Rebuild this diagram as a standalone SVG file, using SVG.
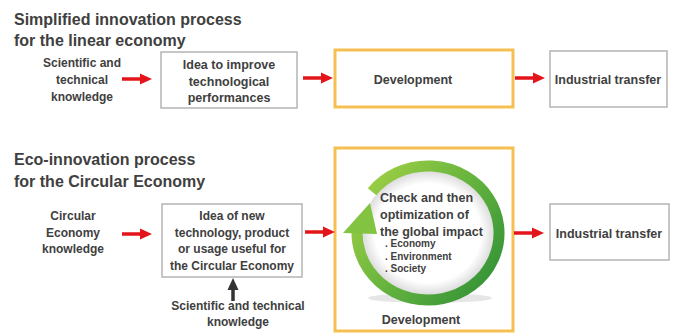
<svg xmlns="http://www.w3.org/2000/svg" width="676" height="333" viewBox="0 0 676 333">
<style>
text{font-family:"Liberation Sans",Arial,sans-serif;font-weight:bold;fill:#404040}
.title{font-size:16px}
.lbl{font-size:12px;text-anchor:middle}
.lbl5{font-size:12.5px;text-anchor:middle}
.ct{font-size:12.5px}
.bul{font-size:10px}
.box{fill:#fff;stroke:#b4b4b4;stroke-width:1.5}
.dev{fill:#fff;stroke:#f5bf52;stroke-width:3}
.red{stroke:#e3151b;stroke-width:3.5;fill:none;marker-end:url(#rh)}
.blk{stroke:#333;stroke-width:3.5;fill:none;marker-end:url(#bh)}
</style>
<defs>
<marker id="rh" markerUnits="userSpaceOnUse" viewBox="0 0 12 12" refX="6" refY="6" markerWidth="12" markerHeight="12" orient="auto">
<path d="M0,0.5 L12,6 L0,11.5 z" fill="#e3151b"/>
</marker>
<marker id="bh" markerUnits="userSpaceOnUse" viewBox="0 0 12 12" refX="6" refY="6" markerWidth="12" markerHeight="12" orient="auto">
<path d="M0,0.5 L12,6 L0,11.5 z" fill="#333"/>
</marker>
<linearGradient id="ring" gradientUnits="userSpaceOnUse" x1="355" y1="175" x2="500" y2="290">
<stop offset="0" stop-color="#a6d246"/>
<stop offset="0.5" stop-color="#66b43e"/>
<stop offset="1" stop-color="#2f8f36"/>
</linearGradient>
<radialGradient id="disk" cx="0.5" cy="0.5" r="0.5">
<stop offset="0.8" stop-color="#ffffff"/>
<stop offset="1" stop-color="#dcdcdc"/>
</radialGradient>
</defs>

<g id="titles">
<text class="title" x="14" y="25">Simplified innovation process</text>
<text class="title" x="14" y="46">for the linear economy</text>
<text class="title" x="14" y="165">Eco-innovation process</text>
<text class="title" x="14" y="187">for the Circular Economy</text>
</g>

<g id="sci-top">
<text class="lbl" x="82" y="67">Scientific and</text>
<text class="lbl" x="82" y="84">technical</text>
<text class="lbl" x="82" y="101">knowledge</text>
</g>

<g id="idea-top">
<rect class="box" x="161" y="52" width="136" height="56"/>
<text class="lbl5" x="229" y="69">Idea to improve</text>
<text class="lbl5" x="229" y="85.5">technological</text>
<text class="lbl5" x="229" y="102">performances</text>
</g>

<g id="dev-top">
<rect class="dev" x="335" y="50" width="178" height="57"/>
<text class="lbl5" x="413" y="83.5">Development</text>
</g>

<g id="ind-top">
<rect class="box" x="550" y="51" width="117" height="56"/>
<text class="lbl5" x="608" y="84">Industrial transfer</text>
</g>

<g id="ce-knowledge">
<text class="lbl" x="73" y="220">Circular</text>
<text class="lbl" x="73" y="236.5">Economy</text>
<text class="lbl" x="73" y="253">knowledge</text>
</g>

<g id="idea-bottom">
<rect class="box" x="162" y="204" width="140" height="73"/>
<text class="lbl" x="232" y="220">Idea of new</text>
<text class="lbl" x="232" y="236.5">technology, product</text>
<text class="lbl" x="232" y="253">or usage useful for</text>
<text class="lbl" x="232" y="269.5">the Circular Economy</text>
</g>

<g id="sci-bottom">
<text class="lbl" x="238" y="310">Scientific and technical</text>
<text class="lbl" x="238" y="326">knowledge</text>
</g>

<g id="dev-bottom">
<rect class="dev" x="335" y="148" width="178" height="183"/>
<ellipse cx="430" cy="298" rx="62" ry="5" fill="#e6e6e6"/>
<ellipse cx="428" cy="233" rx="66" ry="62" fill="url(#disk)"/>
<path d="M372.1,191.7 A71,67 0 1 1 357.7,223.7" fill="none" stroke="url(#ring)" stroke-width="11"/>
<polygon points="343,233 377,234 370,203" fill="#82c341"/>
<text class="ct" x="380" y="201.5">Check and then</text>
<text class="ct" x="380" y="219">optimization of</text>
<text class="ct" x="380" y="235.5">the global impact</text>
<text class="bul" x="385" y="247">. Economy</text>
<text class="bul" x="385" y="259.5">. Environment</text>
<text class="bul" x="385" y="272">. Society</text>
<text class="lbl5" x="421" y="323.5">Development</text>
</g>

<g id="ind-bottom">
<rect class="box" x="550" y="204" width="119" height="56"/>
<text class="lbl5" x="609" y="237.5">Industrial transfer</text>
</g>

<g id="connectors">
<line class="red" x1="122" y1="79" x2="146" y2="79"/>
<line class="red" x1="303" y1="78" x2="327" y2="78"/>
<line class="red" x1="515" y1="78" x2="539" y2="78"/>
<line class="red" x1="122" y1="234" x2="146" y2="234"/>
<line class="red" x1="305" y1="232" x2="329" y2="232"/>
<line class="red" x1="514" y1="233" x2="538" y2="233"/>
<line class="blk" x1="233" y1="301" x2="233" y2="284"/>
</g>
</svg>
